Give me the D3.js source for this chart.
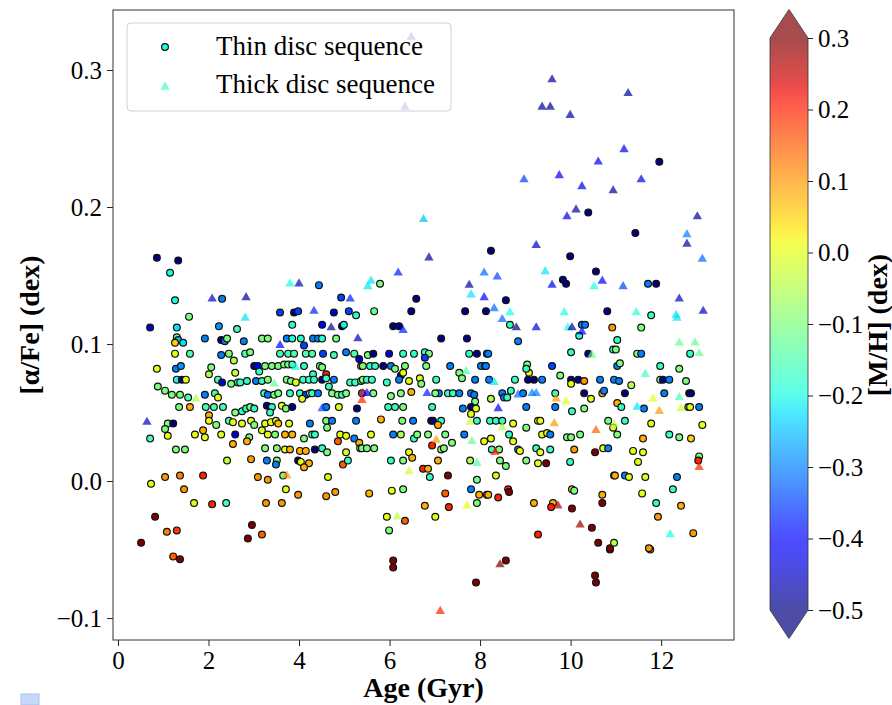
<!DOCTYPE html>
<html>
<head>
<meta charset="utf-8">
<script src="https://cdn.jsdelivr.net/npm/d3@7"></script>
<style>
body { margin: 0; background: #fff; }
svg { font-family: "Times New Roman", "Liberation Serif", serif; }
</style>
</head>
<body>
<svg id="chart" width="892" height="705"></svg>
<script>
// tick values
var ageTicks = [0, 2, 4, 6, 8, 10, 12];
var alphaTicks = [-0.1, 0.0, 0.1, 0.2, 0.3];
var mhTicks = [-0.5, -0.4, -0.3, -0.2, -0.1, 0.0, 0.1, 0.2, 0.3];
var seriesNames = ["Thin disc sequence", "Thick disc sequence"];

// [age (Gyr), [alpha/Fe] (dex), [M/H] (dex)]
var thinDisc = [
  [0.86,0.163,-0.52],[1.33,0.161,-0.52],[1.15,0.152,-0.2],[2.30,0.133,-0.3],[1.26,0.132,-0.2],
  [1.57,0.120,-0.1],[0.71,0.112,-0.45],[1.30,0.112,-0.22],[2.23,0.113,-0.28],[2.63,0.111,-0.15],
  [1.30,0.105,-0.1],[1.33,0.103,-0.25],[1.26,0.101,0.05],[1.44,0.101,-0.22],[1.92,0.104,-0.3],
  [2.28,0.103,-0.52],[2.36,0.102,-0.3],[2.41,0.104,-0.1],[1.26,0.093,0.0],[1.59,0.093,-0.15],
  [2.28,0.092,-0.3],[2.45,0.093,-0.1],[2.56,0.088,-0.05],[0.86,0.082,0.0],[1.28,0.082,-0.3],
  [1.39,0.084,-0.28],[2.06,0.083,-0.1],[2.01,0.078,-0.05],[2.59,0.079,-0.03],[1.30,0.074,-0.2],
  [1.41,0.074,-0.5],[1.50,0.074,0.0],[2.21,0.074,-0.15],[2.30,0.072,-0.45],[2.50,0.071,-0.1],
  [2.65,0.072,-0.15],[0.88,0.069,-0.1],[1.04,0.066,-0.1],[1.19,0.063,-0.1],[1.37,0.063,-0.1],
  [1.55,0.061,-0.15],[1.92,0.063,-0.3],[2.14,0.064,-0.15],[2.21,0.061,0.0],[1.35,0.054,-0.1],
  [1.59,0.054,0.08],[1.94,0.054,-0.15],[2.12,0.054,-0.15],[2.32,0.054,-0.15],[2.59,0.050,-0.1],
  [2.01,0.048,0.08],[2.01,0.044,0.0],[1.10,0.042,-0.1],[1.22,0.042,-0.5],[1.04,0.038,-0.1],
  [2.17,0.041,-0.1],[2.45,0.044,-0.15],[2.54,0.043,0.0],[0.71,0.031,-0.15],[1.10,0.033,0.0],
  [1.70,0.034,0.0],[1.88,0.037,0.08],[1.92,0.032,0.0],[2.28,0.034,0.0],[2.59,0.034,-0.45],
  [2.54,0.027,0.08],[1.28,0.023,-0.1],[1.48,0.023,-0.1],[2.41,0.015,-0.03],[0.73,-0.002,0.0],
  [1.04,0.003,0.1],[1.37,0.004,0.12],[1.88,0.004,0.2],[1.46,-0.006,0.1],[1.68,-0.016,0.0],
  [2.08,-0.017,0.2],[2.39,-0.016,-0.15],[0.82,-0.026,0.3],[1.08,-0.037,0.12],[1.30,-0.036,0.18],
  [0.51,-0.045,0.3],[1.22,-0.055,0.15],[1.37,-0.057,0.3],
  [4.44,0.143,-0.3],[4.93,0.134,-0.35],[3.58,0.123,-0.35],[3.89,0.123,-0.52],[3.98,0.124,-0.35],
  [4.77,0.123,-0.45],[5.10,0.124,-0.35],[5.26,0.121,-0.18],[3.85,0.114,-0.18],[4.51,0.114,-0.4],
  [4.95,0.113,-0.52],[4.99,0.114,-0.2],[3.18,0.104,-0.1],[3.31,0.104,-0.1],[2.78,0.102,-0.3],
  [3.73,0.104,-0.3],[3.85,0.104,-0.18],[4.04,0.104,-0.18],[4.31,0.104,-0.3],[4.42,0.104,-0.3],
  [4.51,0.104,-0.18],[4.82,0.104,-0.1],[4.11,0.099,-0.35],[2.81,0.093,-0.15],[2.92,0.094,-0.1],
  [3.58,0.093,-0.15],[3.76,0.093,-0.15],[3.89,0.093,-0.15],[4.15,0.093,-0.15],[4.29,0.093,-0.15],
  [4.53,0.093,-0.35],[4.77,0.092,-0.15],[5.04,0.094,-0.3],[5.22,0.093,-0.15],[5.33,0.089,-0.45],
  [5.37,0.084,0.1],[3.01,0.084,-0.52],[3.09,0.084,-0.4],[3.25,0.084,-0.1],[3.40,0.084,-0.1],
  [3.54,0.084,-0.1],[3.67,0.085,-0.1],[3.76,0.085,-0.1],[3.85,0.085,-0.17],[4.11,0.084,-0.17],
  [4.31,0.078,-0.17],[4.46,0.084,-0.1],[4.51,0.083,-0.1],[4.60,0.078,0.2],[3.12,0.080,-0.17],
  [2.70,0.072,-0.17],[2.85,0.073,-0.17],[3.05,0.073,-0.3],[3.18,0.073,-0.17],[3.31,0.074,-0.1],
  [3.73,0.074,-0.1],[3.82,0.073,-0.1],[3.93,0.072,0.0],[4.09,0.074,-0.17],[4.22,0.074,-0.17],
  [4.33,0.074,-0.17],[4.51,0.074,-0.52],[4.60,0.075,-0.17],[4.77,0.074,-0.3],[5.13,0.072,-0.17],
  [5.24,0.072,-0.17],[5.37,0.073,-0.1],[3.23,0.064,-0.17],[3.31,0.063,-0.3],[3.45,0.063,-0.1],
  [3.54,0.064,-0.1],[3.80,0.064,-0.17],[4.02,0.064,-0.17],[4.15,0.063,-0.35],[4.24,0.064,-0.1],
  [4.29,0.064,-0.17],[4.42,0.064,-0.3],[4.66,0.069,-0.17],[4.73,0.064,-0.1],[4.86,0.063,-0.1],
  [4.95,0.063,-0.17],[5.04,0.064,-0.1],[5.39,0.064,-0.3],[4.07,0.060,0.0],[2.74,0.051,-0.17],
  [2.83,0.053,-0.17],[2.92,0.054,-0.1],[3.01,0.053,-0.17],[3.29,0.055,-0.52],[3.40,0.054,-0.17],
  [3.36,0.050,-0.17],[3.62,0.055,0.0],[3.71,0.053,-0.1],[3.85,0.054,-0.52],[4.60,0.054,-0.3],
  [4.88,0.054,0.0],[5.28,0.053,-0.52],[2.74,0.042,0.0],[2.94,0.044,0.0],[3.01,0.041,-0.1],
  [3.25,0.042,0.0],[3.38,0.043,0.0],[3.49,0.044,0.0],[3.54,0.042,0.07],[3.78,0.042,0.0],
  [4.24,0.042,-0.3],[4.60,0.044,-0.1],[4.62,0.039,-0.1],[4.73,0.044,-0.3],[5.26,0.044,-0.3],
  [2.90,0.032,-0.1],[2.85,0.029,0.08],[3.18,0.037,0.0],[3.31,0.034,0.0],[3.47,0.034,-0.1],
  [3.69,0.034,0.08],[3.85,0.034,0.08],[4.11,0.031,-0.1],[4.29,0.034,-0.17],[4.35,0.034,-0.17],
  [4.91,0.034,0.0],[5.04,0.033,0.0],[4.86,0.029,0.15],[5.22,0.031,-0.3],[5.33,0.028,0.08],
  [5.35,0.024,-0.1],[3.25,0.024,-0.1],[3.51,0.024,-0.1],[3.69,0.023,0.0],[3.80,0.023,0.08],
  [4.02,0.022,0.08],[4.15,0.022,0.08],[4.35,0.023,-0.52],[4.51,0.024,-0.17],[4.62,0.021,-0.1],
  [5.04,0.021,0.0],[2.94,0.016,0.1],[3.29,0.015,-0.3],[3.51,0.015,-0.1],[3.49,0.012,-0.3],
  [3.98,0.015,-0.52],[4.04,0.014,0.0],[4.22,0.013,0.08],[4.11,0.010,0.08],[4.97,0.012,0.15],
  [5.08,0.015,-0.17],[3.09,0.003,0.1],[3.31,0.001,0.1],[3.65,0.004,-0.1],[4.64,0.003,0.0],
  [3.71,-0.006,0.0],[3.98,-0.010,0.1],[4.60,-0.011,0.1],[4.80,-0.008,0.1],[3.27,-0.016,0.1],
  [3.62,-0.016,0.1],[2.96,-0.032,0.3],[2.87,-0.042,0.3],[3.18,-0.039,0.15],
  [5.79,0.144,-0.1],[6.59,0.133,-0.52],[5.66,0.124,-0.12],[6.48,0.124,-0.52],[6.08,0.113,-0.52],
  [6.21,0.113,-0.52],[7.14,0.104,-0.52],[7.71,0.104,-0.52],[7.67,0.124,-0.52],[8.13,0.124,-0.52],
  [8.24,0.168,-0.52],[5.52,0.092,-0.1],[5.64,0.093,-0.52],[5.99,0.093,-0.45],[6.30,0.093,-0.17],
  [6.54,0.093,-0.17],[6.78,0.094,-0.17],[6.87,0.093,-0.1],[7.76,0.093,-0.17],[7.93,0.093,-0.52],
  [8.15,0.093,-0.3],[6.78,0.090,-0.35],[5.41,0.084,-0.1],[5.57,0.084,-0.17],[5.68,0.084,-0.17],
  [5.86,0.084,-0.52],[6.03,0.084,-0.3],[6.12,0.082,-0.1],[6.34,0.084,-0.1],[6.25,0.077,-0.52],
  [6.30,0.079,0.0],[6.81,0.084,-0.1],[7.34,0.084,-0.3],[7.54,0.079,-0.1],[7.60,0.075,-0.1],
  [8.02,0.084,-0.3],[8.11,0.084,-0.3],[5.41,0.074,-0.1],[5.50,0.074,-0.17],[5.61,0.074,-0.17],
  [5.94,0.072,-0.17],[6.21,0.074,-0.3],[6.43,0.073,0.0],[6.67,0.075,0.0],[6.70,0.071,-0.1],
  [7.03,0.074,-0.17],[7.89,0.074,-0.3],[5.64,0.064,-0.1],[6.03,0.062,-0.1],[6.25,0.064,-0.1],
  [6.48,0.065,0.08],[7.09,0.064,-0.3],[7.01,0.064,-0.1],[7.29,0.064,-0.17],[7.40,0.064,-0.17],
  [7.54,0.064,-0.3],[7.80,0.064,-0.3],[7.87,0.063,-0.3],[7.89,0.058,-0.1],[5.97,0.054,-0.17],
  [6.12,0.054,-0.17],[6.30,0.054,-0.1],[6.94,0.054,-0.17],[7.80,0.054,-0.52],[7.91,0.053,0.0],
  [7.62,0.053,-0.3],[7.80,0.049,0.0],[5.81,0.045,0.08],[6.28,0.044,-0.1],[6.52,0.044,-0.3],
  [6.92,0.044,-0.52],[6.96,0.044,-0.52],[7.14,0.044,-0.17],[7.07,0.041,0.08],[7.93,0.044,-0.17],
  [5.59,0.034,0.0],[6.08,0.034,-0.3],[6.25,0.034,-0.05],[6.54,0.031,-0.17],[6.61,0.034,-0.1],
  [6.85,0.034,-0.1],[7.23,0.034,-0.1],[7.38,0.028,-0.1],[7.65,0.034,-0.3],[6.94,0.026,0.2],
  [7.14,0.023,-0.05],[7.20,0.024,-0.1],[8.09,0.029,0.0],[5.39,0.024,-0.1],[5.50,0.024,-0.1],
  [5.66,0.024,-0.1],[6.43,0.021,0.0],[6.50,0.017,0.08],[6.03,0.015,-0.17],[6.30,0.015,-0.1],
  [7.07,0.015,0.08],[7.78,0.015,-0.05],[6.74,0.009,0.2],[6.85,0.009,0.08],[6.89,0.003,-0.17],
  [7.29,0.004,0.3],[7.93,0.001,-0.1],[5.55,-0.009,0.08],[6.05,-0.007,0.0],[6.30,-0.006,-0.1],
  [7.23,-0.009,0.15],[7.80,-0.006,-0.3],[7.98,-0.010,0.08],[8.15,-0.010,0.08],[6.78,-0.018,0.08],
  [7.31,-0.019,0.2],[7.93,-0.016,-0.1],[5.94,-0.026,0.0],[6.34,-0.029,0.15],[7.01,-0.026,0.0],
  [5.99,-0.036,-0.1],[6.08,-0.058,0.3],[6.08,-0.063,0.3],[7.91,-0.074,0.3],[8.57,-0.058,0.3],
  [10.54,-0.069,0.3],[10.56,-0.074,0.3],[10.87,-0.050,0.3],[11.76,-0.050,0.1],
  [9.99,0.164,-0.52],[9.83,0.147,-0.52],[9.90,0.144,-0.52],[10.56,0.153,-0.52],[8.57,0.132,-0.52],
  [8.66,0.114,-0.17],[10.25,0.114,-0.3],[10.32,0.114,-0.3],[10.19,0.106,-0.17],[10.81,0.124,-0.52],
  [10.92,0.112,0.1],[8.84,0.102,-0.3],[8.18,0.093,-0.3],[10.01,0.094,-0.17],[10.39,0.093,-0.52],
  [10.94,0.096,-0.17],[8.13,0.084,-0.3],[9.04,0.085,-0.1],[9.08,0.079,0.0],[9.02,0.082,-0.17],
  [9.59,0.084,-0.35],[9.77,0.077,-0.1],[8.20,0.074,-0.3],[8.77,0.074,-0.17],[9.06,0.074,-0.52],
  [9.19,0.074,-0.52],[9.37,0.074,-0.3],[10.01,0.074,-0.52],[10.01,0.071,0.0],[10.17,0.074,-0.52],
  [10.30,0.073,0.1],[10.65,0.074,-0.3],[10.96,0.074,-0.3],[8.24,0.060,-0.05],[8.49,0.064,-0.3],
  [8.53,0.061,-0.3],[8.60,0.061,-0.17],[8.68,0.066,-0.17],[8.95,0.064,-0.3],[9.66,0.064,-0.17],
  [9.66,0.054,-0.3],[10.03,0.051,-0.17],[10.30,0.053,-0.1],[10.30,0.064,-0.52],[10.45,0.060,0.0],
  [10.70,0.064,0.1],[10.74,0.066,-0.3],[9.02,0.054,-0.3],[8.22,0.044,-0.17],[8.35,0.044,-0.17],
  [8.49,0.044,-0.17],[8.73,0.042,0.0],[9.02,0.039,-0.1],[9.28,0.044,0.0],[9.33,0.044,0.0],
  [10.83,0.044,-0.1],[10.94,0.039,0.0],[8.24,0.031,0.0],[8.64,0.034,-0.17],[8.73,0.029,0.0],
  [9.37,0.034,0.0],[9.48,0.035,0.0],[9.55,0.034,-0.3],[9.92,0.032,-0.1],[10.01,0.032,-0.1],
  [10.21,0.034,-0.1],[8.26,0.023,-0.17],[8.42,0.023,-0.1],[8.84,0.023,-0.3],[8.88,0.022,0.0],
  [9.24,0.024,-0.17],[9.33,0.021,0.0],[9.55,0.023,-0.17],[10.08,0.023,0.1],[10.54,0.021,0.3],
  [10.72,0.024,0.0],[10.83,0.024,-0.3],[8.44,0.015,-0.1],[8.57,0.011,-0.1],[9.02,0.015,-0.1],
  [9.28,0.013,0.0],[9.46,0.013,0.3],[9.99,0.014,-0.17],[8.35,0.004,0.0],[10.96,0.004,0.0],
  [8.18,-0.010,0.08],[8.40,-0.012,0.2],[8.62,-0.006,0.2],[8.64,-0.008,0.3],[10.03,-0.006,0.05],
  [10.08,-0.007,-0.1],[10.70,-0.010,0.08],[9.19,-0.016,0.08],[9.61,-0.016,0.08],[9.57,-0.019,0.2],
  [10.03,-0.020,0.3],[10.70,-0.016,0.3],[10.47,-0.034,0.3],[9.28,-0.039,0.2],[10.61,-0.045,0.3],
  [10.87,-0.049,0.3],[10.96,-0.045,-0.05],
  [11.43,0.181,-0.52],[11.71,0.144,-0.3],[11.89,0.144,-0.52],[11.78,0.121,-0.17],[11.56,0.112,-0.1],
  [11.03,0.103,-0.17],[11.00,0.096,-0.1],[11.47,0.093,-0.1],[11.56,0.093,-0.3],[12.64,0.093,-0.17],
  [11.03,0.084,-0.3],[11.09,0.086,-0.1],[11.98,0.084,-0.17],[12.40,0.082,-0.1],[11.07,0.073,-0.3],
  [11.34,0.070,-0.05],[11.98,0.074,-0.1],[12.04,0.074,-0.52],[12.18,0.074,-0.3],[12.55,0.073,-0.1],
  [12.07,0.064,-0.3],[12.62,0.064,-0.52],[12.66,0.064,-0.52],[11.20,0.064,-0.52],[11.03,0.057,0.08],
  [11.12,0.054,-0.17],[11.62,0.053,-0.3],[12.60,0.054,-0.1],[12.64,0.054,0.0],[12.84,0.054,-0.3],
  [11.20,0.044,-0.17],[11.78,0.042,0.0],[12.91,0.041,0.0],[11.03,0.034,-0.1],[11.60,0.031,0.08],
  [12.18,0.034,-0.17],[12.40,0.032,-0.1],[12.66,0.031,0.05],[11.38,0.022,0.0],[11.60,0.021,0.0],
  [11.49,0.014,0.0],[12.84,0.018,-0.1],[12.82,0.015,0.2],[10.98,0.004,0.08],[11.20,0.004,-0.3],
  [11.29,0.003,0.0],[11.65,0.003,0.0],[12.35,0.003,-0.3],[12.26,-0.006,-0.17],[11.58,-0.009,0.0],
  [11.89,-0.016,-0.17],[12.44,-0.018,0.08],[11.93,-0.026,0.1],[12.71,-0.038,0.1],[11.73,-0.049,0.1],
  [11.96,0.233,-0.52],[10.39,0.196,-0.52]
];

var thickDisc = [
  [0.64,0.043,-0.45],[1.72,0.060,-0.05],[2.08,0.133,-0.45],[3.80,0.144,-0.2],[4.00,0.144,-0.45],
  [2.83,0.134,-0.48],[5.13,0.133,-0.38],[2.81,0.119,-0.22],[4.33,0.124,-0.38],[4.71,0.112,-0.48],
  [5.30,0.104,-0.45],[3.58,0.099,-0.4],[3.93,0.083,-0.2],[3.45,0.071,-0.12],[4.51,0.053,-0.35],
  [5.39,0.059,0.2],[3.73,0.004,0.1],[6.87,0.163,-0.48],[6.19,0.152,-0.38],[5.59,0.146,-0.22],
  [5.52,0.142,-0.22],[6.30,0.110,-0.38],[8.09,0.152,-0.32],[7.76,0.143,-0.48],[7.80,0.136,-0.22],
  [8.09,0.134,-0.4],[7.69,0.080,-0.15],[5.41,0.064,0.2],[5.50,0.064,-0.4],[6.83,0.064,-0.38],
  [7.78,0.043,-0.02],[7.03,0.030,0.1],[7.82,0.029,-0.12],[7.93,0.013,-0.15],[6.43,0.007,-0.02],
  [7.71,-0.018,0.0],[6.17,-0.026,-0.03],[7.12,-0.095,0.2],[8.44,-0.061,0.3],[9.24,0.172,-0.45],
  [9.44,0.153,-0.22],[8.38,0.149,-0.35],[9.59,0.143,-0.42],[10.70,0.146,-0.4],[10.52,0.142,-0.2],
  [8.31,0.126,-0.32],[8.49,0.118,-0.32],[8.66,0.123,-0.2],[8.80,0.112,-0.5],[9.24,0.112,-0.42],
  [9.86,0.123,-0.2],[9.94,0.112,-0.2],[10.03,0.112,-0.48],[10.25,0.109,-0.42],[10.47,0.092,-0.12],
  [8.31,0.072,-0.22],[8.84,0.063,-0.32],[9.15,0.064,-0.3],[9.24,0.064,-0.3],[9.68,0.060,0.1],
  [9.90,0.058,0.0],[8.40,0.053,-0.42],[8.49,0.039,-0.05],[9.64,0.042,0.1],[10.56,0.037,0.15],
  [8.33,0.021,0.2],[9.72,-0.018,0.27],[10.21,-0.032,0.28],[12.57,0.180,-0.3],[12.57,0.173,-0.48],
  [12.91,0.162,-0.32],[11.16,0.142,-0.35],[12.40,0.133,-0.45],[12.93,0.124,-0.45],[11.45,0.123,-0.18],
  [12.33,0.121,-0.22],[12.35,0.119,-0.22],[12.40,0.101,-0.12],[12.75,0.101,-0.12],[12.84,0.093,-0.12],
  [11.65,0.078,-0.15],[11.82,0.060,0.0],[12.40,0.061,-0.15],[11.47,0.054,-0.22],[11.96,0.051,0.1],
  [12.44,0.053,-0.03],[10.96,0.041,-0.05],[12.84,0.010,0.2],[12.20,-0.039,-0.2],[9.59,0.293,-0.48],
  [9.37,0.273,-0.48],[9.55,0.273,-0.48],[9.99,0.267,-0.48],[11.27,0.283,-0.48],[11.18,0.242,-0.42],
  [10.61,0.233,-0.42],[8.97,0.220,-0.35],[9.75,0.223,-0.42],[10.25,0.215,-0.42],[10.94,0.212,-0.48],
  [11.56,0.220,-0.42],[10.12,0.198,-0.48],[9.92,0.193,-0.42],[12.80,0.193,-0.48],[6.75,0.191,-0.25],
  [6.48,0.324,-0.48],[6.34,0.273,-0.48]
];

var width = 892,
    height = 705,
    plot = {left: 113, top: 10, right: 734, bottom: 640},
    bar = {left: 770, right: 808, top: 38, bottom: 610},
    tickFont = "25px",
    labelFont = "28px";

var svg = d3.select("#chart");

var x = d3.scaleLinear().domain([-0.11, 13.61]).range([plot.left, plot.right]);
var y = d3.scaleLinear().domain([-0.116, 0.3438]).range([plot.bottom, plot.top]);
var mhNorm = d3.scaleLinear().domain([-0.5, 0.3]).range([0, 1]).clamp(true);
var mhY = d3.scaleLinear().domain([-0.5, 0.3]).range([bar.bottom, bar.top]);

// matplotlib "jet"
var jetR = d3.scaleLinear().domain([0, 0.35, 0.66, 0.89, 1]).range([0, 0, 1, 1, 0.5]).clamp(true);
var jetG = d3.scaleLinear().domain([0, 0.125, 0.375, 0.64, 0.91, 1]).range([0, 0, 1, 1, 0, 0]).clamp(true);
var jetB = d3.scaleLinear().domain([0, 0.11, 0.34, 0.65, 1]).range([0.5, 1, 1, 0, 0]).clamp(true);

function jet(t) {
  return d3.rgb(jetR(t) * 255, jetG(t) * 255, jetB(t) * 255).formatHex();
}
function mhColor(v) { return jet(mhNorm(v)); }

var triangle = d3.symbol().type(d3.symbolTriangle).size(38);

function drawAxes() {
  var xAxis = d3.axisBottom(x).tickValues(ageTicks).tickFormat(d3.format("d"))
      .tickSize(6).tickPadding(5);
  var yAxis = d3.axisLeft(y).tickValues(alphaTicks).tickFormat(d3.format(".1f"))
      .tickSize(6).tickPadding(5);

  var gx = svg.append("g").attr("transform", "translate(0," + plot.bottom + ")").call(xAxis);
  var gy = svg.append("g").attr("transform", "translate(" + plot.left + ",0)").call(yAxis);

  [gx, gy].forEach(function (g) {
    g.select(".domain").remove();
    g.selectAll(".tick line").attr("stroke", "#222");
    g.selectAll(".tick text").attr("fill", "#000").style("font-size", tickFont)
      .style("font-family", '"Times New Roman", "Liberation Serif", serif');
  });

  svg.append("text")
     .attr("x", (plot.left + plot.right) / 2)
     .attr("y", 697)
     .attr("text-anchor", "middle")
     .style("font-size", labelFont)
     .style("font-weight", "bold")
     .text("Age (Gyr)");

  svg.append("text")
     .attr("transform", "translate(39," + (plot.top + plot.bottom) / 2 + ") rotate(-90)")
     .attr("text-anchor", "middle")
     .style("font-size", labelFont)
     .style("font-weight", "bold")
     .text("[α/Fe] (dex)");
}

function drawPoints() {
  svg.append("clipPath").attr("id", "plotClip")
     .append("rect")
     .attr("x", plot.left).attr("y", plot.top)
     .attr("width", plot.right - plot.left).attr("height", plot.bottom - plot.top);

  var g = svg.append("g").attr("clip-path", "url(#plotClip)");

  g.selectAll("circle.thin")
   .data(thinDisc)
   .enter()
   .append("circle")
   .attr("class", "thin")
   .attr("cx", function (d) { return x(d[0]); })
   .attr("cy", function (d) { return y(d[1]); })
   .attr("r", 3.4)
   .attr("fill", function (d) { return mhColor(d[2]); })
   .attr("stroke", "#111")
   .attr("stroke-width", 1.2);

  g.selectAll("path.thick")
   .data(thickDisc)
   .enter()
   .append("path")
   .attr("class", "thick")
   .attr("d", triangle)
   .attr("transform", function (d) { return "translate(" + x(d[0]) + "," + y(d[1]) + ")"; })
   .attr("fill", function (d) { return mhColor(d[2]); })
   .attr("fill-opacity", 0.7);

  svg.append("rect")
     .attr("x", plot.left).attr("y", plot.top)
     .attr("width", plot.right - plot.left).attr("height", plot.bottom - plot.top)
     .attr("fill", "none")
     .attr("stroke", "#333")
     .attr("stroke-width", 1);
}

function drawLegend() {
  var lg = svg.append("g");
  lg.append("rect")
    .attr("x", 127).attr("y", 23)
    .attr("width", 324).attr("height", 88)
    .attr("rx", 4)
    .attr("fill", "#fff").attr("fill-opacity", 0.8)
    .attr("stroke", "#d0d0d0");

  lg.append("circle")
    .attr("cx", 165).attr("cy", 47).attr("r", 3.4)
    .attr("fill", mhColor(-0.2)).attr("stroke", "#111").attr("stroke-width", 1.2);

  lg.append("path")
    .attr("d", triangle)
    .attr("transform", "translate(165,87)")
    .attr("fill", mhColor(-0.16)).attr("fill-opacity", 0.7);

  lg.selectAll("text")
    .data(seriesNames)
    .enter()
    .append("text")
    .attr("x", 216)
    .attr("y", function (d, i) { return 55 + i * 38; })
    .style("font-size", "27px")
    .text(function (d) { return d; });
}

function drawColorbar() {
  var grad = svg.append("defs").append("linearGradient")
     .attr("id", "jetGrad")
     .attr("x1", 0).attr("y1", 1).attr("x2", 0).attr("y2", 0);

  grad.selectAll("stop")
     .data(d3.range(0, 1.0001, 0.02))
     .enter()
     .append("stop")
     .attr("offset", function (t) { return t; })
     .attr("stop-color", function (t) { return jet(t); });

  var cx = (bar.left + bar.right) / 2,
      ext = (bar.bottom - bar.top) * 0.05;

  svg.append("rect")
     .attr("x", bar.left).attr("y", bar.top)
     .attr("width", bar.right - bar.left).attr("height", bar.bottom - bar.top)
     .attr("fill", "url(#jetGrad)").attr("fill-opacity", 0.7);

  svg.append("path")
     .attr("d", "M" + bar.left + "," + bar.top + "L" + cx + "," + (bar.top - ext) + "L" + bar.right + "," + bar.top + "Z")
     .attr("fill", jet(1)).attr("fill-opacity", 0.7);
  svg.append("path")
     .attr("d", "M" + bar.left + "," + bar.bottom + "L" + cx + "," + (bar.bottom + ext) + "L" + bar.right + "," + bar.bottom + "Z")
     .attr("fill", jet(0)).attr("fill-opacity", 0.7);

  svg.append("path")
     .attr("d", "M" + bar.left + "," + bar.top + "L" + cx + "," + (bar.top - ext) + "L" + bar.right + "," + bar.top +
                "L" + bar.right + "," + bar.bottom + "L" + cx + "," + (bar.bottom + ext) + "L" + bar.left + "," + bar.bottom + "Z")
     .attr("fill", "none").attr("stroke", "#333").attr("stroke-width", 0.8);

  var cAxis = d3.axisRight(mhY).tickValues(mhTicks).tickFormat(d3.format(".1f"))
      .tickSize(5).tickPadding(5);
  var gc = svg.append("g").attr("transform", "translate(" + bar.right + ",0)").call(cAxis);
  gc.select(".domain").remove();
  gc.selectAll(".tick line").attr("stroke", "#222");
  gc.selectAll(".tick text").attr("fill", "#000").style("font-size", tickFont)
    .style("font-family", '"Times New Roman", "Liberation Serif", serif');

  svg.append("text")
     .attr("transform", "translate(887," + (plot.top + plot.bottom) / 2 + ") rotate(-90)")
     .attr("text-anchor", "middle")
     .style("font-size", labelFont)
     .style("font-weight", "bold")
     .text("[M/H] (dex)");
}

drawAxes();
drawPoints();
drawLegend();
drawColorbar();

// small square at the lower left corner of the picture
svg.append("rect")
   .attr("x", 21).attr("y", 694).attr("width", 18).attr("height", 11)
   .attr("fill", "#c8d8f8").attr("stroke", "#a9c1ef");
</script>
</body>
</html>
